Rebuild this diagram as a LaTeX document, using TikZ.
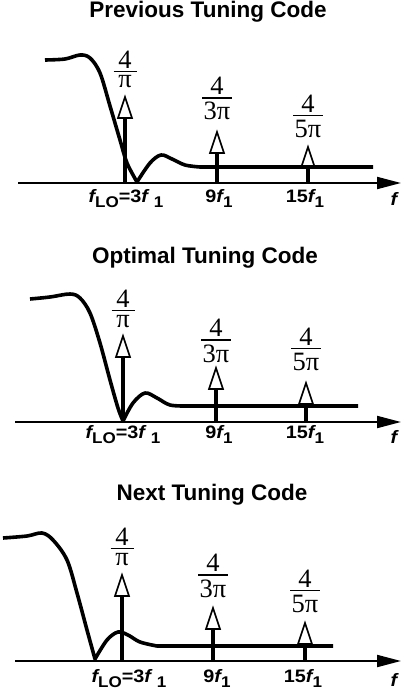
\documentclass[tikz,border=0pt]{standalone}
\usepackage{fontspec}
\setmainfont{Liberation Sans}
\newfontfamily\serifrm{Liberation Serif}
\newfontfamily\labfont{Liberation Sans}[FakeStretch=1.1]
\usetikzlibrary{arrows.meta}
\newcommand\fr[3]{\vbox{\offinterlineskip\hbox to #1{\hss#2\hss}\kern2.5pt\hrule height1.6pt\kern3.5pt\hbox to #1{\hss#3\hss}}}
\newcommand\sbs[1]{\raisebox{-5pt}{\fontsize{15.5}{15.5}\selectfont #1}}
\newcommand\ff{{\itshape f}}
\newcommand\impulse[4]{%
  \coordinate (#1t) at (#2,#3);
  \coordinate (#1b) at (#2,#3+21);
  \coordinate (#1a) at (#2,#4);
  \draw[stem] (#1b) -- (#1a);
  \draw[tri] (#1t) -- ++(7,21) -- ++(-14,0) -- cycle;}
\begin{document}
\begin{tikzpicture}[x=1pt,y=-1pt,
  axis/.style={line width=2pt,-{Triangle[length=24pt,width=12pt]}},
  curve/.style={line width=3.6pt,line join=round,line cap=butt},
  stem/.style={line width=3.6pt},
  tri/.style={line width=1.6pt,line join=miter},
  title/.style={font=\fontsize{22.5}{22.5}\selectfont\bfseries,anchor=base,inner sep=0},
  frac/.style={font=\fontsize{26.5}{26.5}\selectfont\serifrm,anchor=base,inner sep=0},
  lab/.style={font=\fontsize{18}{18}\labfont\bfseries,anchor=base,inner sep=0}]
\useasboundingbox (0,0) rectangle (401,690);

% ---------- Panel 1 ----------
\node[title] (t1) at (208,18) {Previous Tuning Code};
\coordinate (a1s) at (18,183);
\coordinate (a1e) at (401,183);
\draw[axis] (a1s) -- (a1e);
\impulse{p1i1}{125}{97}{183}
\impulse{p1i2}{217}{132}{183}
\impulse{p1i3}{308}{147}{183}
\draw[curve] plot[smooth,tension=0.55] coordinates {(45,60) (65,59) (80,55) (90,58) (100,73) (110,106) (120,140) (127,163) (137,182)}
  -- plot[smooth,tension=0.55] coordinates {(137,182) (150,163) (161,155) (172,159) (185,165) (200,167)} -- (373,167);
\node[frac] (f11) at (125,88) {\fr{23pt}{4}{π}};
\node[frac] (f12) at (217,120) {\fr{30pt}{4}{3π}};
\node[frac] (f13) at (308,137) {\fr{30pt}{4}{5π}};
\node[lab] (l11) at (126,202) {\ff\sbs{LO}=3\ff\hspace{6pt}\sbs{1}};
\node[lab] (l12) at (219,202) {9\ff\sbs{1}};
\node[lab] (l13) at (305,202) {15\ff\sbs{1}};
\node[lab] (x1) at (394,205) {\ff};

% ---------- Panel 2 ----------
\node[title] (t2) at (205,263) {Optimal Tuning Code};
\coordinate (a2s) at (15,422);
\coordinate (a2e) at (401,422);
\draw[axis] (a2s) -- (a2e);
\impulse{p2i1}{123}{336}{422}
\impulse{p2i2}{216}{368}{422}
\impulse{p2i3}{306}{383}{422}
\draw[curve] plot[smooth,tension=0.55] coordinates {(30,299) (50,297) (70,294) (80,298) (90,313) (100,343) (110,380) (118,408) (123,421)}
  -- plot[smooth,tension=0.55] coordinates {(123,421) (133,403) (145,393) (157,398) (170,405) (187,406)} -- (358,406);
\node[frac] (f21) at (123,327) {\fr{23pt}{4}{π}};
\node[frac] (f22) at (216,362) {\fr{30pt}{4}{3π}};
\node[frac] (f23) at (306,370) {\fr{30pt}{4}{5π}};
\node[lab] (l21) at (123,438) {\ff\sbs{LO}=3\ff\hspace{6pt}\sbs{1}};
\node[lab] (l22) at (219,438) {9\ff\sbs{1}};
\node[lab] (l23) at (305,438) {15\ff\sbs{1}};
\node[lab] (x2) at (394,443) {\ff};

% ---------- Panel 3 ----------
\node[title] (t3) at (212,500) {Next Tuning Code};
\coordinate (a3s) at (15,661);
\coordinate (a3e) at (401,661);
\draw[axis] (a3s) -- (a3e);
\impulse{p3i1}{122}{575}{661}
\impulse{p3i2}{213}{608}{661}
\impulse{p3i3}{305}{623}{661}
\draw[curve] plot[smooth,tension=0.55] coordinates {(3,538) (27,536) (42,533) (53,540) (67,560) (77,593) (87,630) (95,659)}
  -- plot[smooth,tension=0.55] coordinates {(95,659) (107,640) (118,632) (128,635) (140,642) (157,646)} -- (333,646);
\node[frac] (f31) at (122,565) {\fr{23pt}{4}{π}};
\node[frac] (f32) at (213,597) {\fr{30pt}{4}{3π}};
\node[frac] (f33) at (305,612) {\fr{30pt}{4}{5π}};
\node[lab] (l31) at (129,682) {\ff\sbs{LO}=3\ff\hspace{6pt}\sbs{1}};
\node[lab] (l32) at (217,682) {9\ff\sbs{1}};
\node[lab] (l33) at (303,682) {15\ff\sbs{1}};
\node[lab] (x3) at (394,686) {\ff};
\end{tikzpicture}
\end{document}
